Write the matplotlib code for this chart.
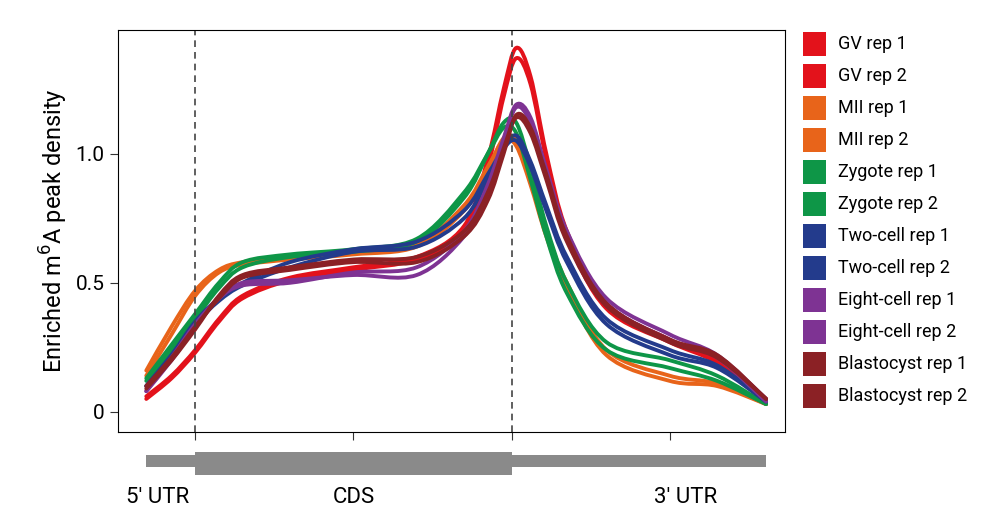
import matplotlib.pyplot as plt
import numpy as np
from matplotlib.patches import Rectangle, PathPatch
from matplotlib.path import Path
import matplotlib.transforms as mtransforms

plt.rcParams["font.family"] = "Roboto"

# metagene position grid (1 = CDS start, 3 = CDS end / stop codon)
xpos = [0.69, 0.85, 1.0, 1.15, 1.3, 1.6, 2.0, 2.4, 2.7, 2.85, 2.95, 3.03, 3.12,
        3.22, 3.35, 3.6, 4.0, 4.3, 4.61]

series = {
    "GV rep 1":         [0.06, 0.14, 0.24, 0.36, 0.45, 0.52, 0.56, 0.60, 0.72, 0.98, 1.25, 1.41, 1.30, 1.00, 0.70, 0.42, 0.28, 0.20, 0.05],
    "GV rep 2":         [0.05, 0.13, 0.23, 0.35, 0.44, 0.51, 0.55, 0.59, 0.70, 0.95, 1.22, 1.37, 1.27, 0.98, 0.68, 0.40, 0.27, 0.19, 0.04],
    "MII rep 1":        [0.16, 0.33, 0.47, 0.55, 0.58, 0.60, 0.62, 0.65, 0.80, 0.95, 1.05, 1.03, 0.88, 0.68, 0.48, 0.22, 0.12, 0.10, 0.03],
    "MII rep 2":        [0.14, 0.30, 0.45, 0.54, 0.57, 0.59, 0.61, 0.64, 0.78, 0.94, 1.06, 1.05, 0.90, 0.70, 0.50, 0.24, 0.14, 0.11, 0.03],
    "Zygote rep 1":     [0.13, 0.26, 0.38, 0.50, 0.58, 0.61, 0.63, 0.67, 0.85, 1.00, 1.10, 1.08, 0.90, 0.68, 0.46, 0.24, 0.17, 0.12, 0.03],
    "Zygote rep 2":     [0.12, 0.24, 0.36, 0.48, 0.56, 0.60, 0.62, 0.66, 0.83, 1.00, 1.12, 1.12, 0.95, 0.72, 0.50, 0.27, 0.20, 0.14, 0.03],
    "Two-cell rep 1":   [0.10, 0.22, 0.35, 0.44, 0.50, 0.58, 0.63, 0.66, 0.78, 0.92, 1.02, 1.05, 0.95, 0.78, 0.58, 0.34, 0.22, 0.17, 0.04],
    "Two-cell rep 2":   [0.10, 0.22, 0.34, 0.43, 0.49, 0.56, 0.62, 0.64, 0.75, 0.90, 1.02, 1.07, 0.97, 0.80, 0.60, 0.36, 0.24, 0.18, 0.04],
    "Eight-cell rep 1": [0.08, 0.20, 0.33, 0.44, 0.50, 0.51, 0.53, 0.53, 0.68, 0.86, 1.05, 1.18, 1.12, 0.92, 0.68, 0.42, 0.28, 0.21, 0.04],
    "Eight-cell rep 2": [0.08, 0.21, 0.34, 0.44, 0.49, 0.50, 0.54, 0.56, 0.70, 0.88, 1.06, 1.19, 1.14, 0.94, 0.70, 0.44, 0.30, 0.22, 0.05],
    "Blastocyst rep 1": [0.10, 0.21, 0.33, 0.44, 0.52, 0.55, 0.58, 0.58, 0.68, 0.82, 1.00, 1.15, 1.10, 0.92, 0.68, 0.42, 0.28, 0.22, 0.05],
    "Blastocyst rep 2": [0.09, 0.20, 0.32, 0.45, 0.53, 0.56, 0.59, 0.60, 0.70, 0.85, 1.02, 1.14, 1.08, 0.90, 0.66, 0.41, 0.27, 0.21, 0.05],
}

colors = ["#E3121B", "#E3121B", "#E8641A", "#E8641A", "#0E9647", "#0E9647",
          "#233B8C", "#233B8C", "#7E3393", "#7E3393", "#8B2125", "#8B2125"]


def smooth_path(x, y):
    # Catmull-Rom through the points, drawn as cubic Bezier segments
    p = np.column_stack([x, y])
    verts, codes = [p[0]], [Path.MOVETO]
    for i in range(len(p) - 1):
        p0 = p[i - 1] if i > 0 else p[i]
        p3 = p[i + 2] if i + 2 < len(p) else p[i + 1]
        c1 = p[i] + (p[i + 1] - p0) / 6
        c2 = p[i + 1] - (p3 - p[i]) / 6
        verts += [c1, c2, p[i + 1]]
        codes += [Path.CURVE4] * 3
    return Path(verts, codes)


fig = plt.figure(figsize=(9.9, 5.32), dpi=100)
ax = fig.add_axes([0.119, 0.188, 0.674, 0.756])

for (name, vals), c in zip(series.items(), colors):
    ax.add_patch(PathPatch(smooth_path(xpos, vals), fill=False, edgecolor=c,
                           lw=2.8, capstyle="round", joinstyle="round"))

ax.axvline(1.0, color="#444444", ls=(0, (4, 3)), lw=1.2)
ax.axvline(3.0, color="#444444", ls=(0, (4, 3)), lw=1.2)

ax.set_xlim(0.51, 4.73)
ax.set_ylim(-0.078, 1.48)
ax.set_yticks([0, 0.5, 1.0])
ax.set_yticklabels(["0", "0.5", "1.0"], fontsize=15)
ax.set_xticks([1, 2, 3, 4])
ax.set_xticklabels([])
ax.tick_params(length=6, color="#333333")
ax.set_ylabel("Enriched m$^6$A peak density", fontsize=17)

# gene model beneath the axis
tr = mtransforms.blended_transform_factory(ax.transData, ax.transAxes)
ax.add_patch(Rectangle((0.69, -0.087), 0.31, 0.03, transform=tr, color="#8a8a8a", clip_on=False, lw=0))
ax.add_patch(Rectangle((1.0, -0.107), 2.0, 0.057, transform=tr, color="#8a8a8a", clip_on=False, lw=0))
ax.add_patch(Rectangle((3.0, -0.087), 1.61, 0.03, transform=tr, color="#8a8a8a", clip_on=False, lw=0))
for xt, lab in [(0.76, "5\u2032 UTR"), (2.0, "CDS"), (4.1, "3\u2032 UTR")]:
    ax.text(xt, -0.162, lab, transform=tr, ha="center", va="center", fontsize=16)

# legend as coloured squares
for i, (name, c) in enumerate(zip(series.keys(), colors)):
    yc = 1 - (44 + 32 * i) / 532
    fig.add_artist(Rectangle((803 / 990, yc - 12 / 532), 23 / 990, 24 / 532,
                             transform=fig.transFigure, color=c, lw=0))
    fig.text(838 / 990, yc, name, ha="left", va="center", fontsize=13)

fig.savefig("out.png", dpi=100)
